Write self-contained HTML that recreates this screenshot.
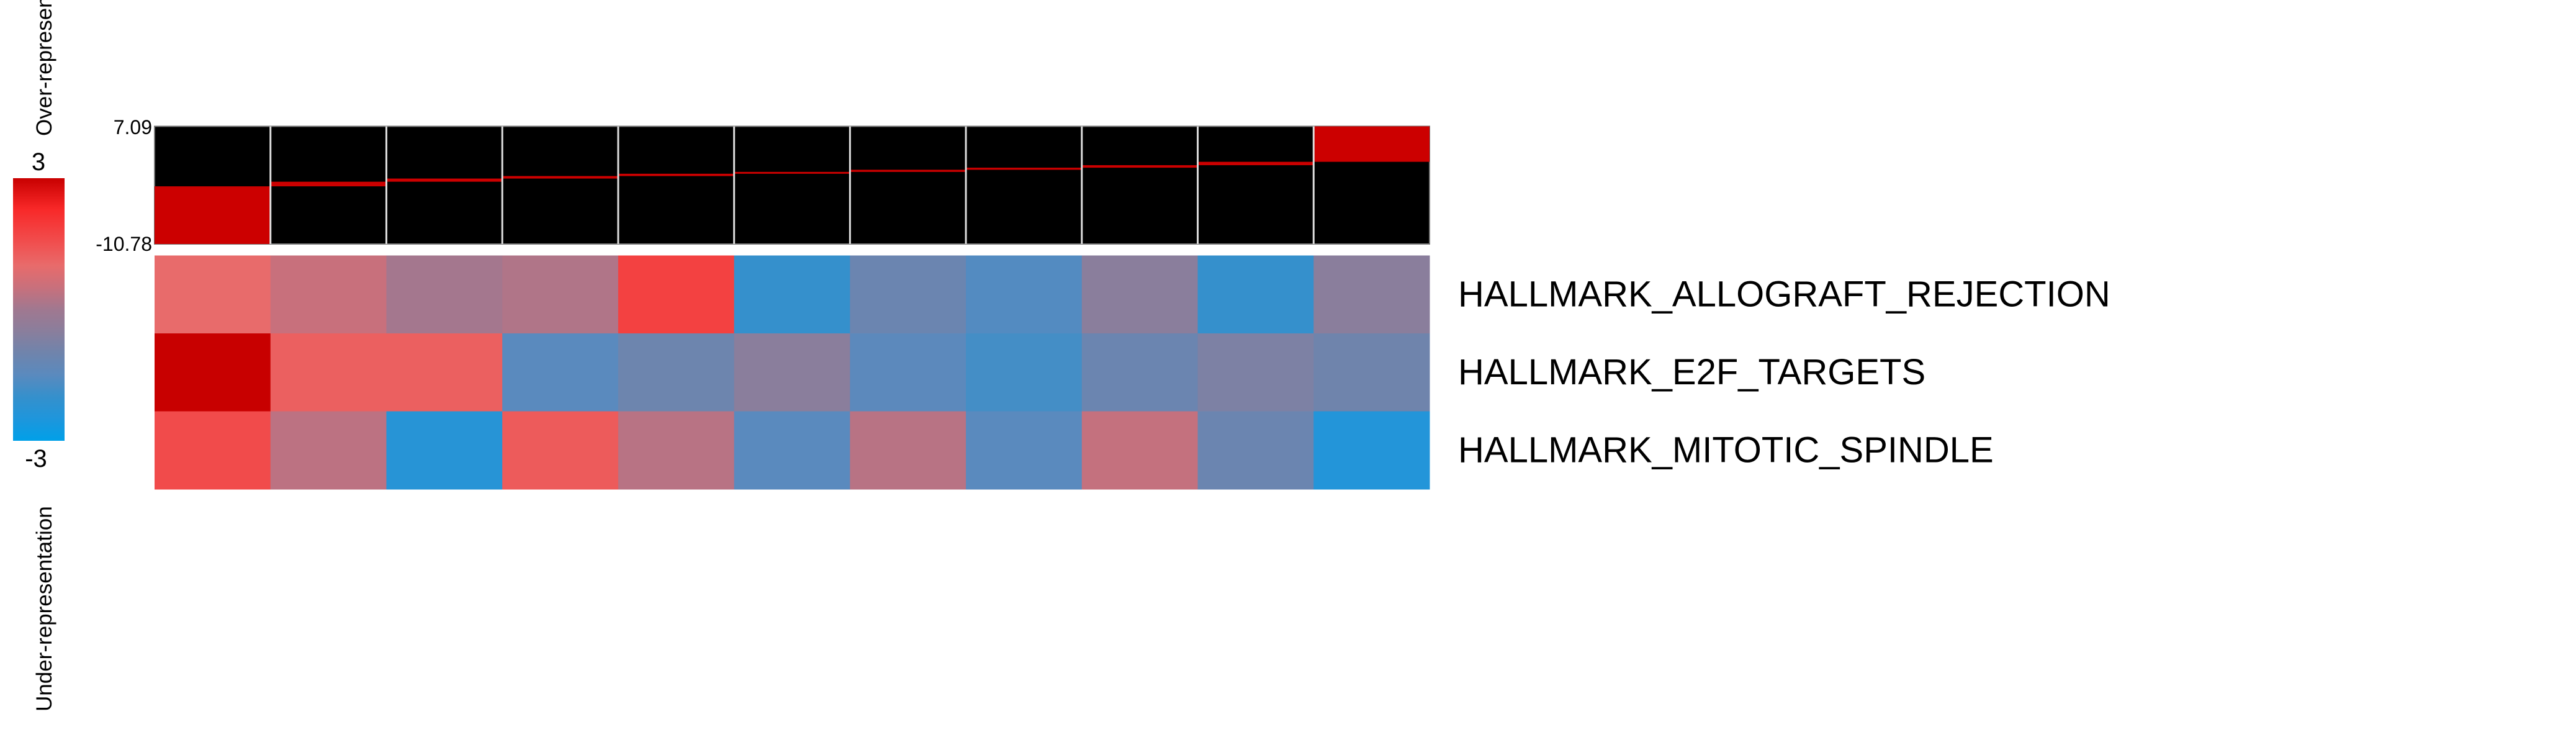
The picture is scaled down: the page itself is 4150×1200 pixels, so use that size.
<!DOCTYPE html>
<html><head><meta charset="utf-8"><style>
html,body{margin:0;padding:0;background:#fff;}
svg{display:block;font-family:"Liberation Sans",sans-serif;}
</style></head><body>
<svg id="chart" width="4150" height="1200" viewBox="0 0 4150 1200">
<defs>
<linearGradient id="cbgrad" x1="0" y1="0" x2="0" y2="1">
<stop offset="0" stop-color="#c80000"/><stop offset="0.117" stop-color="#f82828"/>
<stop offset="0.25" stop-color="#f05050"/><stop offset="0.333" stop-color="#e86b6b"/>
<stop offset="0.417" stop-color="#c8707c"/><stop offset="0.5" stop-color="#a07890"/>
<stop offset="0.583" stop-color="#8a7e9c"/><stop offset="0.667" stop-color="#6f84ac"/>
<stop offset="0.75" stop-color="#5a8abe"/><stop offset="0.833" stop-color="#3590cc"/>
<stop offset="0.917" stop-color="#1e96dc"/><stop offset="1" stop-color="#00a0e8"/>
</linearGradient></defs>
<text transform="translate(83,219) rotate(-90)" font-size="35">Over-representation</text>
<text transform="translate(83,1146) rotate(-90)" font-size="35">Under-representation</text>
<rect x="21" y="287" width="83" height="423" fill="url(#cbgrad)"/>
<text x="62" y="274" font-size="40" text-anchor="middle">3</text>
<text x="58" y="752" font-size="40" text-anchor="middle">-3</text>
<text x="245" y="216" font-size="32" text-anchor="end">7.09</text>
<text x="245" y="404" font-size="32" text-anchor="end">-10.78</text>
<g id="topg"></g>
<g id="heat"></g>
<g id="labels"></g>
</svg>
<script>
const topMax = 7.09;
const topMin = -10.78;
const stepValues = [-10.78, -2.02, -1.32, -0.84, -0.46, -0.11, 0.17, 0.49, 0.81, 1.19, 1.70, 7.09];
const geneSets = ["HALLMARK_ALLOGRAFT_REJECTION", "HALLMARK_E2F_TARGETS", "HALLMARK_MITOTIC_SPINDLE"];
const row1 = [1.0, 0.5, 0.05, 0.2, 1.8, -2.0, -1.1, -1.6, -0.5, -2.0, -0.5];
const row2 = [3.0, 1.2, 1.2, -1.5, -1.05, -0.5, -1.45, -1.8, -1.1, -0.75, -1.0];
const row3 = [1.6, 0.35, -2.3, 1.3, 0.3, -1.5, 0.3, -1.5, 0.45, -1.1, -2.4];
const rows = [row1, row2, row3];

const NS = "http://www.w3.org/2000/svg";
const X0 = 249, X1 = 2303, nCol = 11, colW = (X1 - X0) / nCol;
const TY0 = 203.5, TY1 = 393;
const HY0 = 411.5, rowH = 125.5;
const ty = v => TY0 + (topMax - v) / (topMax - topMin) * (TY1 - TY0);
const stops = [[-3,[0,160,232]],[-2.5,[30,150,220]],[-2,[53,144,204]],[-1.5,[90,138,190]],[-1,[111,132,172]],[-0.5,[138,126,156]],[0,[160,120,144]],[0.5,[200,112,124]],[1,[232,107,107]],[1.5,[240,80,80]],[2.3,[248,40,40]],[3,[200,0,0]]];
function color(v){
  v = Math.max(-3, Math.min(3, v));
  for (let i = 0; i < stops.length - 1; i++) {
    const [a, ca] = stops[i], [b, cb] = stops[i+1];
    if (v <= b) { const t = (v - a) / (b - a);
      return "rgb(" + ca.map((c,k)=>Math.round(c + (cb[k]-c)*t)).join(",") + ")"; }
  }
  return "rgb(200,0,0)";
}
function mk(tag, attrs, parent){ const e = document.createElementNS(NS, tag); for (const k in attrs) e.setAttribute(k, attrs[k]); parent.appendChild(e); return e; }

const topG = document.getElementById("topg");
const bg = mk("rect", {x:X0, y:TY0, width:X1-X0, height:TY1-TY0, fill:"#000", stroke:"#777", "stroke-width":2}, topG);


for (let i = 0; i < nCol; i++) {
  const ya = ty(stepValues[i+1]), yb = ty(stepValues[i]);
  const r = mk("rect", {x:X0 + i*colW, y:Math.min(ya,yb), width:colW, height:Math.max(2, Math.abs(yb-ya)), fill:"#cc0000"}, topG);
  
  
}
for (let i = 1; i < nCol; i++) {
  const l = mk("line", {x1:X0+i*colW, x2:X0+i*colW, y1:TY0, y2:TY1, stroke:"#ddd", "stroke-width":3}, topG);
  
  
}
const heat = document.getElementById("heat");
const labels = document.getElementById("labels");
rows.forEach((row, r) => {
  row.forEach((v, c) => {
    const cell = mk("rect", {x:X0 + c*colW, y:HY0 + r*rowH, width:colW + 0.5, height:rowH + 0.5, fill:color(v)}, heat);
    
    
  });
  const t = mk("text", {x:2349, y:HY0 + r*rowH + rowH/2 + 19, "font-size":58}, labels);
  t.textContent = geneSets[r];
  
  
});
</script>
</body></html>
